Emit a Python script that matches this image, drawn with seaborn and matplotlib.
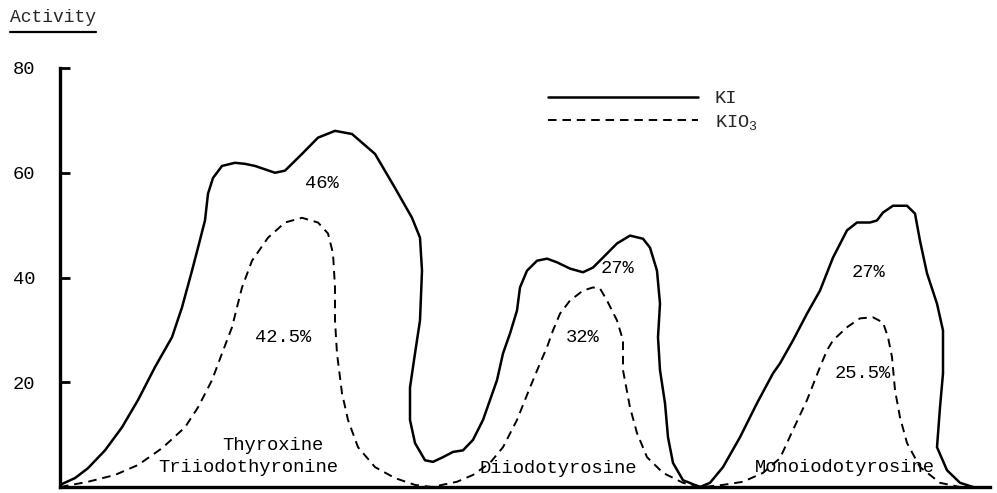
import matplotlib
matplotlib.use("Agg")
import matplotlib.pyplot as plt
from matplotlib.lines import Line2D
import seaborn as sns
import pandas as pd

# ---- data (x = elution distance, arbitrary units) ----
ki_x = [0, 15, 28, 45, 62, 78, 95, 112, 122, 132, 138, 145, 148, 153, 162, 175,
        185, 195, 215, 225, 242, 258, 275, 292, 315, 335, 352, 360, 362, 360, 355,
        350, 350, 355, 365, 373, 383, 393, 403, 413, 423, 430, 437, 443, 450, 457,
        460, 467, 477, 487, 497, 510, 523, 533, 543, 557, 570, 583, 590, 597, 600,
        598, 600, 605, 608, 613, 623, 640, 650, 663, 680, 697, 713, 720, 733, 747,
        760, 773, 787, 797, 810, 817, 823, 833, 847, 855, 860, 867, 877, 883, 883,
        880, 877, 887, 900, 913]
ki_y = [0.4, 1.7, 3.6, 7.0, 11.4, 16.6, 22.9, 28.6, 34.3, 41.3, 45.7, 50.9, 56.0,
        59.0, 61.3, 61.9, 61.7, 61.3, 60.0, 60.4, 63.6, 66.7, 68.0, 67.4, 63.6,
        57.1, 51.4, 47.6, 41.3, 31.8, 25.5, 19.0, 12.8, 8.4, 5.1, 4.8, 5.7, 6.7,
        7.0, 9.0, 12.8, 16.6, 20.4, 25.5, 29.3, 33.7, 38.1, 41.3, 43.2, 43.6, 42.9,
        41.7, 41.0, 41.9, 43.8, 46.5, 48.0, 47.4, 45.7, 41.3, 35.0, 28.6, 22.3,
        16.0, 9.5, 4.6, 1.3, 0.0, 0.8, 3.8, 9.5, 16.0, 21.7, 23.6, 28.0, 33.1,
        37.5, 43.8, 49.0, 50.5, 50.5, 50.9, 52.4, 53.7, 53.7, 52.2, 47.0, 40.8,
        35.0, 29.9, 21.7, 15.2, 7.6, 3.2, 0.8, 0.0]

kio3_x = [0, 28, 55, 78, 102, 125, 138, 152, 162, 172, 177, 182, 192, 208, 225,
          242, 258, 268, 273, 275, 275, 277, 282, 288, 298, 315, 335, 355, 372,
          397, 413, 430, 443, 457, 470, 480, 487, 493, 500, 510, 523, 533, 540,
          547, 557, 563, 563, 570, 577, 587, 603, 623, 643, 663, 683, 703, 720,
          733, 747, 760, 767, 773, 787, 800, 813, 823, 828, 832, 835, 840, 847,
          860, 880, 900]
kio3_y = [0.0, 1.0, 2.3, 4.2, 7.4, 11.4, 15.2, 20.4, 25.5, 30.5, 34.3, 38.1, 43.2,
          47.6, 50.5, 51.4, 50.5, 48.4, 44.6, 38.1, 31.8, 25.5, 17.9, 12.8, 7.6,
          3.8, 1.7, 0.4, 0.0, 1.0, 2.3, 4.6, 7.6, 12.8, 19.0, 23.6, 26.7, 29.9,
          33.1, 35.6, 37.5, 38.1, 37.9, 35.6, 31.8, 28.0, 22.3, 15.2, 10.3, 5.7,
          2.7, 0.8, 0.0, 0.4, 1.0, 2.7, 5.5, 10.9, 16.6, 22.9, 26.1, 28.0, 30.5,
          32.2, 32.4, 31.4, 28.6, 24.8, 18.5, 13.3, 8.4, 3.8, 0.8, 0.0]

series_labels = ["KI", "KIO$_3$"]
yticks = [20, 40, 60, 80]
ytick_labels = ["20", "40", "60", "80"]

pct_labels = ["46%", "42.5%", "27%", "32%", "27%", "25.5%"]
pct_x = [262, 223, 557, 523, 808, 803]
pct_y = [57.9, 28.6, 41.7, 28.6, 41.0, 21.7]

peak_names = ["Thyroxine", "Triiodothyronine", "Diiodotyrosine", "Monoiodotyrosine"]
peak_x = [213, 188, 498, 785]
peak_y = [8.0, 3.8, 3.6, 3.8]

# ---- style ----
sns.set_style("ticks")
plt.rcParams["font.family"] = ["Liberation Mono", "DejaVu Sans Mono"]
plt.rcParams["mathtext.fontset"] = "custom"
plt.rcParams["mathtext.rm"] = "Liberation Mono"
plt.rcParams["mathtext.it"] = "Liberation Mono"
FS = 13.5
TXT = dict(fontsize=FS, color="black")

fig = plt.figure(figsize=(9.97, 4.93), dpi=100)
ax = fig.add_axes([60 / 997, 6 / 493, 930 / 997, 419 / 493])

ki_df = pd.DataFrame({"x": ki_x, "y": ki_y})
kio3_df = pd.DataFrame({"x": kio3_x, "y": kio3_y})

sns.lineplot(data=ki_df, x="x", y="y", sort=False, estimator=None, ax=ax,
             color="black", lw=1.8, label=series_labels[0],
             solid_joinstyle="round", solid_capstyle="round")
sns.lineplot(data=kio3_df, x="x", y="y", sort=False, estimator=None, ax=ax,
             color="black", lw=1.4, linestyle=(0, (4.4, 3.0)),
             label=series_labels[1], dash_joinstyle="round")

ax.set_xlim(0, 930)
ax.set_ylim(0, 80)
ax.set_xticks([])
ax.set_yticks(yticks)
ax.set_yticklabels(ytick_labels)
ax.set_xlabel("")
ax.set_ylabel("")
ax.tick_params(axis="y", direction="in", length=7, width=2, pad=18,
               labelsize=FS, colors="black")
for s in ["top", "right"]:
    ax.spines[s].set_visible(False)
for s in ["left", "bottom"]:
    ax.spines[s].set_linewidth(2.4)
    ax.spines[s].set_color("black")

for t, x, y in zip(pct_labels, pct_x, pct_y):
    ax.text(x, y, t, ha="center", va="center", **TXT)
for t, x, y in zip(peak_names, peak_x, peak_y):
    ax.text(x, y, t, ha="center", va="center", **TXT)

leg = ax.legend(loc="upper left", bbox_to_anchor=(548 / 997, 1 - 90 / 493),
                bbox_transform=fig.transFigure, frameon=False, fontsize=FS,
                handlelength=8.0, handletextpad=0.9, labelspacing=0.3,
                borderpad=0, borderaxespad=0)

fig.text(10 / 997, 1 - 17 / 493, "Activity", fontsize=13, ha="left", va="center")
fig.add_artist(Line2D([10 / 997, 96 / 997], [1 - 32 / 493, 1 - 32 / 493],
                      transform=fig.transFigure, color="black", lw=1.6))

fig.savefig("out.png", dpi=100)
